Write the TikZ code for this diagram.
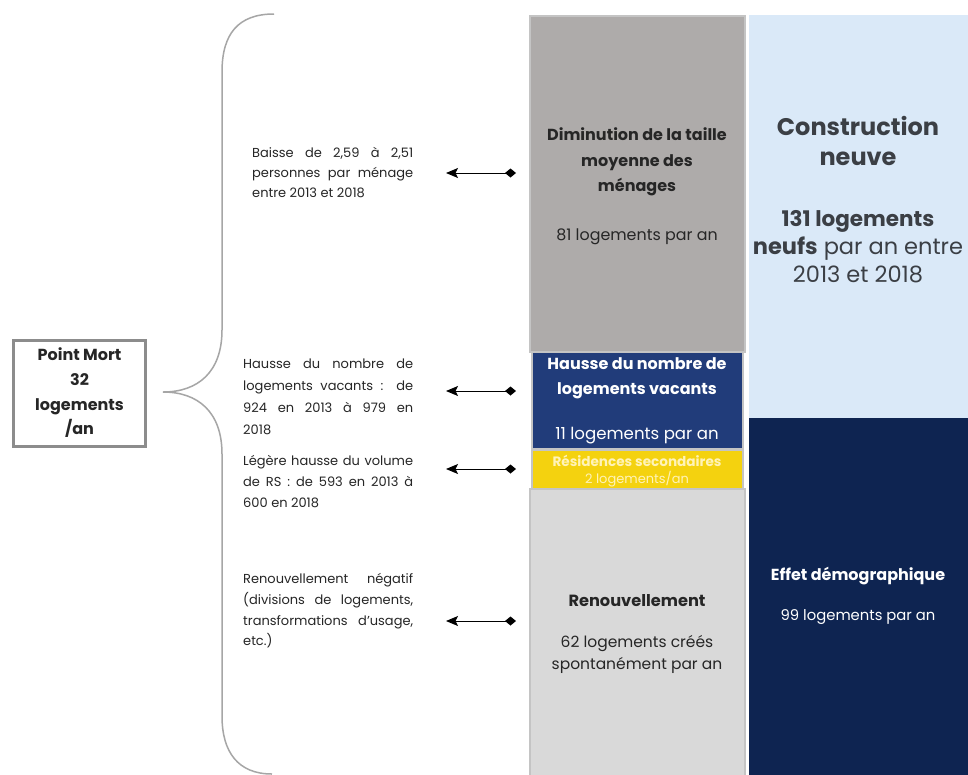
\documentclass[tikz,border=0pt]{standalone}
\usepackage{fontspec}
\setmainfont{Poppins}
\usetikzlibrary{arrows.meta}
\definecolor{boxgray}{HTML}{AEABAA}
\definecolor{boxblue}{HTML}{213C7A}
\definecolor{boxyellow}{HTML}{F4D20F}
\definecolor{boxlight}{HTML}{D9D9D9}
\definecolor{colblue}{HTML}{DAE9F8}
\definecolor{colnavy}{HTML}{0E2451}
\definecolor{edgegray}{HTML}{C4C4C4}
\definecolor{bracegray}{HTML}{A6A6A6}
\definecolor{pmgray}{HTML}{8C8C8C}
\definecolor{txtdark}{HTML}{262626}
\definecolor{txtcol}{HTML}{3B3F45}
\definecolor{txtyellow}{HTML}{FFF3B8}
\tikzset{
  panel/.style={draw=edgegray, line width=1.2pt},
  sidetext/.style={anchor=west, align=left, inner sep=0pt, text=txtdark,
    font=\fontsize{13}{21}\selectfont},
  boxtitle/.style={align=center, inner sep=0pt, font=\bfseries\fontsize{16}{25.5}\selectfont},
  boxvalue/.style={align=center, inner sep=0pt, font=\fontsize{15.5}{22}\selectfont},
  conn/.style={line width=1pt, {Stealth[length=12pt,width=10pt,inset=2.5pt]}-{Diamond[length=11pt,width=9pt]}},
}
\begin{document}
\begin{tikzpicture}[x=1pt,y=-1pt]
\useasboundingbox (0,0) rectangle (968,774);
\fill[white] (0,0) rectangle (968,774);

% central column
\path[panel, fill=boxgray] (530,16) rectangle (745,352);
\path[panel, fill=boxblue] (532,352) rectangle (743,449);
\path[panel, fill=boxyellow] (532,450) rectangle (743,489);
\path[panel, fill=boxlight] (530,489) rectangle (745,776);

% right column
\fill[colblue] (749,15) rectangle (968,418);
\fill[colnavy] (749,418) rectangle (968,776);

% central texts
\node[boxtitle, text=txtdark] (dimT) at (637,162) {Diminution de la taille\\moyenne des\\ménages};
\node[boxvalue, text=txtdark, font=\fontsize{15.9}{22}\selectfont] (dimV) at (637,237) {81 logements par an};
\node[boxtitle, text=white] (vacT) at (637,378.5) {Hausse du nombre de\\logements vacants};
\node[boxvalue, text=white, font=\fontsize{16.6}{22}\selectfont] (vacV) at (637,436) {11 logements par an};
\node[align=center, inner sep=0pt, text=txtyellow, font=\bfseries\fontsize{13.6}{18}\selectfont] (rsT) at (637,461) {Résidences secondaires};
\node[align=center, inner sep=0pt, text=txtyellow, font=\fontsize{13}{18}\selectfont] (rsV) at (637,479) {2 logements/an};
\node[boxtitle, text=txtdark, font=\bfseries\fontsize{16.2}{22}\selectfont] (renT) at (637,601) {Renouvellement};
\node[boxvalue, text=txtdark] (renV) at (637,654) {62 logements créés\\spontanément par an};

% right texts
\node[align=center, inner sep=0pt, text=txtcol, font=\bfseries\fontsize{24}{30}\selectfont] (conT) at (858,141) {Construction\\neuve};
\node[align=center, inner sep=0pt, text=txtcol, font=\fontsize{22.5}{28}\selectfont] (conV) at (858,247) {\textbf{\fontsize{21.5}{28}\selectfont 131 logements}\\\textbf{neufs} par an entre\\2013 et 2018};
\node[boxtitle, text=white, font=\bfseries\fontsize{16}{22}\selectfont] (demT) at (858,576) {Effet démographique};
\node[boxvalue, text=white, font=\fontsize{14.8}{22}\selectfont] (demV) at (858,617) {99 logements par an};

% Point Mort
\node[draw=pmgray, line width=3pt, fill=white, minimum width=132pt, minimum height=106pt,
  align=center, inner sep=0pt, text=txtdark, font=\bfseries\fontsize{16}{24.7}\selectfont]
  (pm) at (79.5,393) {Point Mort\\32\\logements\\/an};

% brace
\coordinate (brTop) at (274,14);
\coordinate (brTip) at (163,392);
\coordinate (brBot) at (272,774);
\draw[bracegray, line width=1.5pt]
  (brTop) .. controls (238,14) and (222,34) .. (222,72)
  -- (222,330) .. controls (222,372) and (198,392) .. (brTip)
  .. controls (198,392) and (222,412) .. (222,454)
  -- (222,716) .. controls (222,752) and (238,774) .. (brBot);

% side texts
\node[sidetext, font=\fontsize{13}{20}\selectfont] (t1) at (252,173)
  {\makebox[161pt][s]{Baisse de 2,59 à 2,51}\\\makebox[161pt][s]{personnes par ménage}\\entre 2013 et 2018};
\node[sidetext, font=\fontsize{13}{22}\selectfont] (t2) at (243,397)
  {\makebox[170pt][s]{Hausse du nombre de}\\\makebox[170pt][s]{logements vacants : de}\\\makebox[170pt][s]{924 en 2013 à 979 en}\\2018};
\node[sidetext] (t3) at (243,482)
  {\makebox[170pt][s]{Légère hausse du volume}\\\makebox[170pt][s]{de RS : de 593 en 2013 à}\\600 en 2018};
\node[sidetext, font=\fontsize{13}{20.7}\selectfont] (t4) at (243,611)
  {\makebox[170pt][s]{Renouvellement négatif}\\\makebox[170pt][s]{(divisions de logements,}\\\makebox[170pt][s]{transformations d’usage,}\\etc.)};

% connectors
\coordinate (a1l) at (446,173); \coordinate (a1r) at (516,173);
\coordinate (a2l) at (446,391); \coordinate (a2r) at (516,391);
\coordinate (a3l) at (446,469); \coordinate (a3r) at (516,469);
\coordinate (a4l) at (446,621); \coordinate (a4r) at (516,621);
\draw[conn] (a1l) -- (a1r);
\draw[conn] (a2l) -- (a2r);
\draw[conn] (a3l) -- (a3r);
\draw[conn] (a4l) -- (a4r);
\end{tikzpicture}
\end{document}
